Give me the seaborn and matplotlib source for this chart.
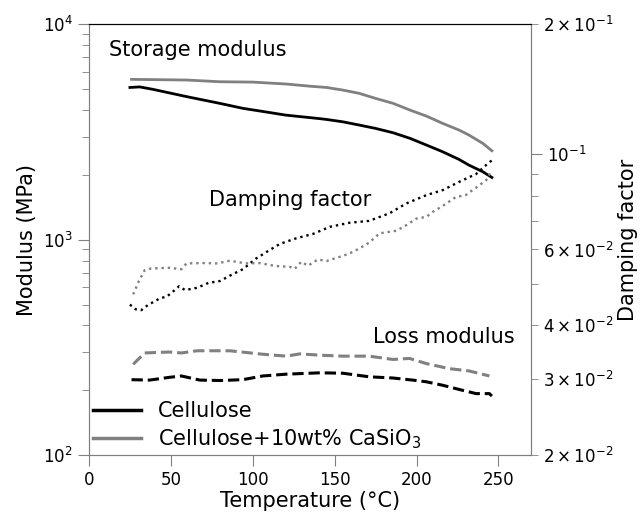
import matplotlib
matplotlib.use("Agg")
import matplotlib.pyplot as plt
import seaborn as sns
import numpy as np
import pandas as pd

plt.rcParams['font.family'] = ['DejaVu Sans']

# ---- data ----
t_storage_cel = [25, 31, 39, 60, 70, 80, 94, 110, 120, 141, 145, 155, 165, 175,
                 185.6, 196, 206, 216, 226, 232, 240.5, 246]
storage_cel = [5080, 5110, 4980, 4600, 4440, 4285, 4064, 3890, 3782, 3640, 3610,
               3520, 3400, 3280, 3133, 2950, 2747, 2555, 2354, 2216, 2064, 1943]

t_storage_cas = [26, 59.5, 80, 100, 120.5, 134.8, 145, 155, 165, 175, 185.6, 196,
                 206, 216, 226, 232, 240.5, 246]
storage_cas = [5540, 5500, 5400, 5380, 5270, 5150, 5080, 4940, 4770, 4520, 4290,
               3990, 3742, 3460, 3222, 3055, 2795, 2583]

t_loss_cel = [26, 37, 49, 56.5, 67.7, 80, 94, 106, 120.5, 141, 155, 171, 185.6,
              197.7, 206, 216, 228, 236.4, 244.5, 246]
loss_cel = [224, 223, 229.6, 233, 223, 222, 224, 233, 237.6, 241, 240, 231, 228,
            223, 219, 211, 200, 193, 193, 188]

t_loss_cas = [27, 34, 49, 56.5, 66, 86, 106, 120.5, 128.7, 141, 155, 171, 185.6,
              195.7, 206, 220, 232, 244.5]
loss_cas = [264, 298, 301, 298, 305, 305, 294, 288, 295, 291, 288, 288, 278,
            281, 266, 252, 246, 233]

t_damp_cel = [25, 28.5, 32, 36, 43.7, 47.3, 51, 55, 58.7, 66, 73, 80, 87.4, 94,
              101.8, 109, 116.5, 126.6, 136.8, 147, 159, 171, 183.5, 193.7, 206,
              216, 226, 236.4, 242.5, 246]
damp_cel = [0.0447, 0.0436, 0.0434, 0.0446, 0.0463, 0.0466, 0.0478, 0.0493, 0.0483,
            0.0489, 0.0502, 0.0507, 0.0525, 0.054, 0.0571, 0.0594, 0.0618, 0.0637,
            0.0652, 0.0677, 0.0692, 0.0699, 0.0728, 0.0767, 0.0802, 0.0824, 0.0861,
            0.0898, 0.0942, 0.0966]

t_damp_cas = [27, 30.5, 34, 38, 49, 56.5, 59.5, 70, 78, 86, 96, 104, 114.4, 122.6,
              125.6, 129.7, 133.7, 139.8, 145, 152, 159, 165, 171, 177.4, 187.6,
              193.7, 200, 206, 210, 216, 224, 230, 238.4, 242.5, 246]
damp_cas = [0.0472, 0.0507, 0.0537, 0.0542, 0.0544, 0.0540, 0.0557, 0.0558, 0.0557,
            0.0565, 0.0557, 0.0558, 0.0549, 0.0547, 0.0541, 0.0562, 0.0550, 0.0569,
            0.0564, 0.0575, 0.0587, 0.0603, 0.0622, 0.0654, 0.0663, 0.0683, 0.0708,
            0.0714, 0.0734, 0.0757, 0.0794, 0.0802, 0.0846, 0.0869, 0.0917]

labels = ['Cellulose', 'Cellulose+10wt% CaSiO$_3$']
colors = ['black', 'gray']

# ---- figure ----
fig = plt.figure(figsize=(6.4, 5.12), dpi=100)
ax = fig.add_axes([0.139, 0.111, 0.691, 0.842])
ax2 = ax.twinx()

sns.lineplot(x=t_storage_cel, y=storage_cel, ax=ax, color=colors[0], lw=2, label=labels[0])
sns.lineplot(x=t_storage_cas, y=storage_cas, ax=ax, color=colors[1], lw=2, label=labels[1])
sns.lineplot(x=t_loss_cel, y=loss_cel, ax=ax, color=colors[0], lw=2.2, linestyle='--')
sns.lineplot(x=t_loss_cas, y=loss_cas, ax=ax, color=colors[1], lw=2.2, linestyle='--')
sns.lineplot(x=t_damp_cel, y=damp_cel, ax=ax2, color=colors[0], lw=1.7, linestyle=':')
sns.lineplot(x=t_damp_cas, y=damp_cas, ax=ax2, color=colors[1], lw=1.7, linestyle=':')

ax.set_yscale('log')
ax.set_ylim(100, 1e4)
ax.set_xlim(0, 270)
ax2.set_yscale('log')
ax2.set_ylim(0.02, 0.2)

ax.set_xlabel('Temperature (°C)', fontsize=15, labelpad=1)
ax.set_ylabel('Modulus (MPa)', fontsize=15)
ax2.set_ylabel('Damping factor', fontsize=15)
ax2.yaxis.set_label_coords(1.197, 0.5)

ax.tick_params(axis='both', which='both', labelsize=12, color='gray')
ax.tick_params(which='major', length=8)
ax.tick_params(which='minor', length=5)
ax2.tick_params(axis='y', which='both', labelsize=12, color='gray')
ax2.tick_params(which='major', length=8)
ax2.tick_params(which='minor', length=5)

for a in (ax, ax2):
    a.spines['left'].set_color('gray')
    a.spines['bottom'].set_color('gray')
    a.spines['right'].set_color('gray')
    a.spines['top'].set_color('black')

ax.text(12.2, 7570, 'Storage modulus', fontsize=15, va='center', ha='left')
ax.text(73, 1524, 'Damping factor', fontsize=15, va='center', ha='left')
ax.text(173.4, 354, 'Loss modulus', fontsize=15, va='center', ha='left')

ax.legend(loc='lower left', bbox_to_anchor=(0, 0), frameon=False, fontsize=15,
          borderaxespad=0.1, borderpad=0.1, labelspacing=0.3, handlelength=2.3)
leg = ax.get_legend()
for h in leg.get_lines():
    h.set_linewidth(2.5)

fig.savefig('out.png', dpi=100)
